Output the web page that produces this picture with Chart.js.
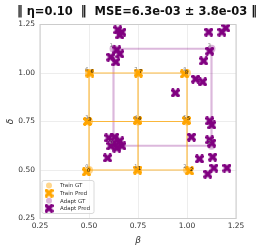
<!DOCTYPE html>
<html lang="en">
<head>
  <meta charset="UTF-8">
  <title>Adapt grid</title>
  <script src="https://cdn.jsdelivr.net/npm/chart.js@4.4.0/dist/chart.umd.min.js"></script>
  <style>
    html, body { margin: 0; padding: 0; background: #fff; }
    #wrap { width: 274px; height: 250px; position: relative; }
  </style>
</head>
<body>
  <div id="wrap"><canvas id="chart"></canvas></div>

  <script>
    const titleText = '\u2016 \u03b7=0.10  \u2016  MSE=6.3e-03 \u00b1 3.8e-03 \u2016';

    // train grid (ground truth) and predictions
    const trainGtBeta  = [0.5, 0.75, 1.0, 0.5, 0.75, 1.0, 0.5, 0.75, 1.0];
    const trainGtDelta = [0.5, 0.5, 0.5, 0.75, 0.75, 0.75, 1.0, 1.0, 1.0];
    const trainPredBeta  = [0.487, 0.748, 1.013, 0.492, 0.747, 0.997, 0.505, 0.752, 0.987];
    const trainPredDelta = [0.490, 0.500, 0.495, 0.750, 0.755, 0.755, 1.000, 1.000, 0.995];

    // adapt grid (ground truth)
    const adaptGtBeta  = [0.625, 0.625, 1.125, 1.125];
    const adaptGtDelta = [0.625, 1.125, 0.625, 1.125];
    const adaptGtIdx   = [0, 1, 2, 3];

    // adapt predictions
    const adaptPredBeta = [
      0.647, 0.668, 0.657, 0.642, 0.657, 0.611, 0.637,
      1.111, 1.178, 1.198, 1.116, 1.085, 1.044, 1.080, 0.941,
      1.116, 1.126, 1.023, 1.116, 1.126, 1.064, 1.131, 1.137, 1.106, 1.204,
      0.601, 0.631, 0.657, 0.611, 0.642, 0.668, 0.626, 0.595
    ];
    const adaptPredDelta = [
      1.222, 1.211, 1.196, 1.119, 1.098, 1.082, 1.057,
      1.211, 1.211, 1.232, 1.113, 1.062, 0.969, 0.954, 0.897,
      0.753, 0.732, 0.670, 0.655, 0.639, 0.557, 0.567, 0.510, 0.479, 0.510,
      0.665, 0.670, 0.650, 0.624, 0.613, 0.624, 0.639, 0.562
    ];

    const xTicks = [0.25, 0.5, 0.75, 1.0, 1.25];
    const yTicks = [0.25, 0.5, 0.75, 1.0, 1.25];

    const ORANGE = '#ffa500';
    const ORANGE_LIGHT = 'rgba(255,165,0,0.45)';
    const PURPLE = '#800080';
    const PURPLE_LIGHT = 'rgba(150,40,150,0.35)';

    // filled "X" marker like matplotlib's
    function makeX(size, color) {
      const c = document.createElement('canvas');
      c.width = size; c.height = size;
      const g = c.getContext('2d');
      const s = size / 2, a = size * 0.2;
      g.translate(s, s);
      g.rotate(Math.PI / 4);
      g.fillStyle = color;
      const L = s * 1.2;
      g.fillRect(-L, -a, 2 * L, 2 * a);
      g.fillRect(-a, -L, 2 * a, 2 * L);
      return c;
    }
    const xOrange = makeX(9, ORANGE);
    const xPurple = makeX(9, PURPLE);

    const pts = (bx, dy) => bx.map((b, i) => ({ x: b, y: dy[i] }));

    // grid lines from GT arrays
    function gridLines(bx, dy, color, width) {
      const out = [];
      const bs = [...new Set(bx)], ds = [...new Set(dy)];
      ds.forEach(d => {
        const row = bx.map((b, i) => ({ x: b, y: dy[i] })).filter(p => p.y === d).sort((p, q) => p.x - q.x);
        out.push(row);
      });
      bs.forEach(b => {
        const col = bx.map((v, i) => ({ x: v, y: dy[i] })).filter(p => p.x === b).sort((p, q) => p.y - q.y);
        out.push(col);
      });
      return out.map(data => ({
        label: '_line', data, showLine: true, pointRadius: 0, borderColor: color,
        borderWidth: width, fill: false, order: 3
      }));
    }

    const datasets = [
      { label: 'Train GT', data: pts(trainGtBeta, trainGtDelta), pointStyle: 'circle', pointRadius: 4,
        backgroundColor: ORANGE_LIGHT, borderWidth: 0, order: 2 },
      { label: 'Train Pred', data: pts(trainPredBeta, trainPredDelta), pointStyle: xOrange, order: 1 },
      { label: 'Adapt GT', data: pts(adaptGtBeta, adaptGtDelta), pointStyle: 'circle', pointRadius: 4,
        backgroundColor: PURPLE_LIGHT, borderWidth: 0, order: 2 },
      { label: 'Adapt Pred', data: pts(adaptPredBeta, adaptPredDelta), pointStyle: xPurple, order: 0 },
      ...gridLines(trainGtBeta, trainGtDelta, 'rgba(255,165,0,0.75)', 1.2),
      ...gridLines(adaptGtBeta, adaptGtDelta, 'rgba(128,0,128,0.28)', 2.2)
    ];

    const decor = {
      id: 'decor',
      beforeDatasetsDraw(chart) {
        const { ctx, chartArea: a } = chart;
        ctx.save();
        ctx.strokeStyle = '#cccccc';
        ctx.lineWidth = 1;
        ctx.strokeRect(a.left, a.top, a.right - a.left, a.bottom - a.top);
        ctx.restore();
      },
      afterDatasetsDraw(chart) {
        const { ctx } = chart;
        const xs = chart.scales.x, ys = chart.scales.y;
        ctx.save();
        ctx.font = '5px "DejaVu Sans"';
        ctx.textBaseline = 'bottom';
        // grey index labels at GT, black at predictions
        ctx.fillStyle = '#777';
        ctx.textAlign = 'right';
        trainGtBeta.forEach((b, i) => ctx.fillText(String(i), xs.getPixelForValue(b) - 0.5, ys.getPixelForValue(trainGtDelta[i]) - 1));
        adaptGtBeta.forEach((b, i) => ctx.fillText(String(adaptGtIdx[i]), xs.getPixelForValue(b) - 0.5, ys.getPixelForValue(adaptGtDelta[i]) - 1));
        ctx.fillStyle = '#111';
        ctx.textAlign = 'left';
        trainPredBeta.forEach((b, i) => ctx.fillText(String(i), xs.getPixelForValue(b) + 0.5, ys.getPixelForValue(trainPredDelta[i]) + 1));

        // title
        ctx.fillStyle = '#111';
        ctx.font = 'bold 11.5px "DejaVu Sans"';
        ctx.textAlign = 'center';
        ctx.textBaseline = 'middle';
        ctx.fillText(titleText, 137, 12);

        // legend box, lower left
        const a = chart.chartArea;
        const bx = a.left + 2, by = a.bottom - 38, bw = 52, bh = 33;
        ctx.fillStyle = 'rgba(255,255,255,0.8)';
        ctx.strokeStyle = '#d0d0d0';
        ctx.lineWidth = 0.8;
        ctx.beginPath();
        ctx.roundRect(bx, by, bw, bh, 2);
        ctx.fill(); ctx.stroke();
        const items = [
          ['Train GT', 'c', ORANGE_LIGHT], ['Train Pred', 'x', xOrange],
          ['Adapt GT', 'c', PURPLE_LIGHT], ['Adapt Pred', 'x', xPurple]
        ];
        ctx.font = '5.5px "DejaVu Sans"';
        ctx.textAlign = 'left';
        items.forEach((it, i) => {
          const cy = by + 5 + i * 7.6, mx = bx + 7;
          if (it[1] === 'c') {
            ctx.fillStyle = it[2];
            ctx.beginPath(); ctx.arc(mx, cy, 3, 0, Math.PI * 2); ctx.fill();
          } else {
            ctx.drawImage(it[2], mx - 4.5, cy - 4.5);
          }
          ctx.fillStyle = '#333';
          ctx.fillText(it[0], bx + 18, cy + 0.5);
        });
        ctx.restore();
      }
    };

    new Chart(document.getElementById('chart'), {
      type: 'scatter',
      data: { datasets },
      options: {
        responsive: true,
        maintainAspectRatio: false,
        animation: false,
        layout: { padding: { top: 24.5, right: 38, left: 0, bottom: 0 } },
        plugins: { legend: { display: false }, tooltip: { enabled: false } },
        scales: {
          x: {
            type: 'linear', min: 0.25, max: 1.25,
            afterBuildTicks: s => { s.ticks = xTicks.map(v => ({ value: v })); },
            afterFit: s => { s.height = 31.5; },
            ticks: { color: '#333', font: { family: 'DejaVu Sans', size: 7.5 }, padding: 3,
                     callback: v => v.toFixed(2) },
            grid: { color: '#e8e8e8', lineWidth: 0.8, drawTicks: false },
            border: { display: false },
            title: { display: true, text: '\u03b2', color: '#333', padding: { top: 0, bottom: 4 },
                     font: { family: 'DejaVu Sans', size: 9, style: 'italic' } }
          },
          y: {
            type: 'linear', min: 0.25, max: 1.25,
            afterBuildTicks: s => { s.ticks = yTicks.map(v => ({ value: v })); },
            afterFit: s => { s.width = 40; },
            ticks: { color: '#333', font: { family: 'DejaVu Sans', size: 7.5 }, padding: 5,
                     callback: v => v.toFixed(2) },
            grid: { color: '#e8e8e8', lineWidth: 0.8, drawTicks: false },
            border: { display: false },
            title: { display: true, text: '\u03b4', color: '#333', padding: { top: 5, bottom: 2 },
                     font: { family: 'DejaVu Sans', size: 9, style: 'italic' } }
          }
        }
      },
      plugins: [decor]
    });
  </script>
</body>
</html>
